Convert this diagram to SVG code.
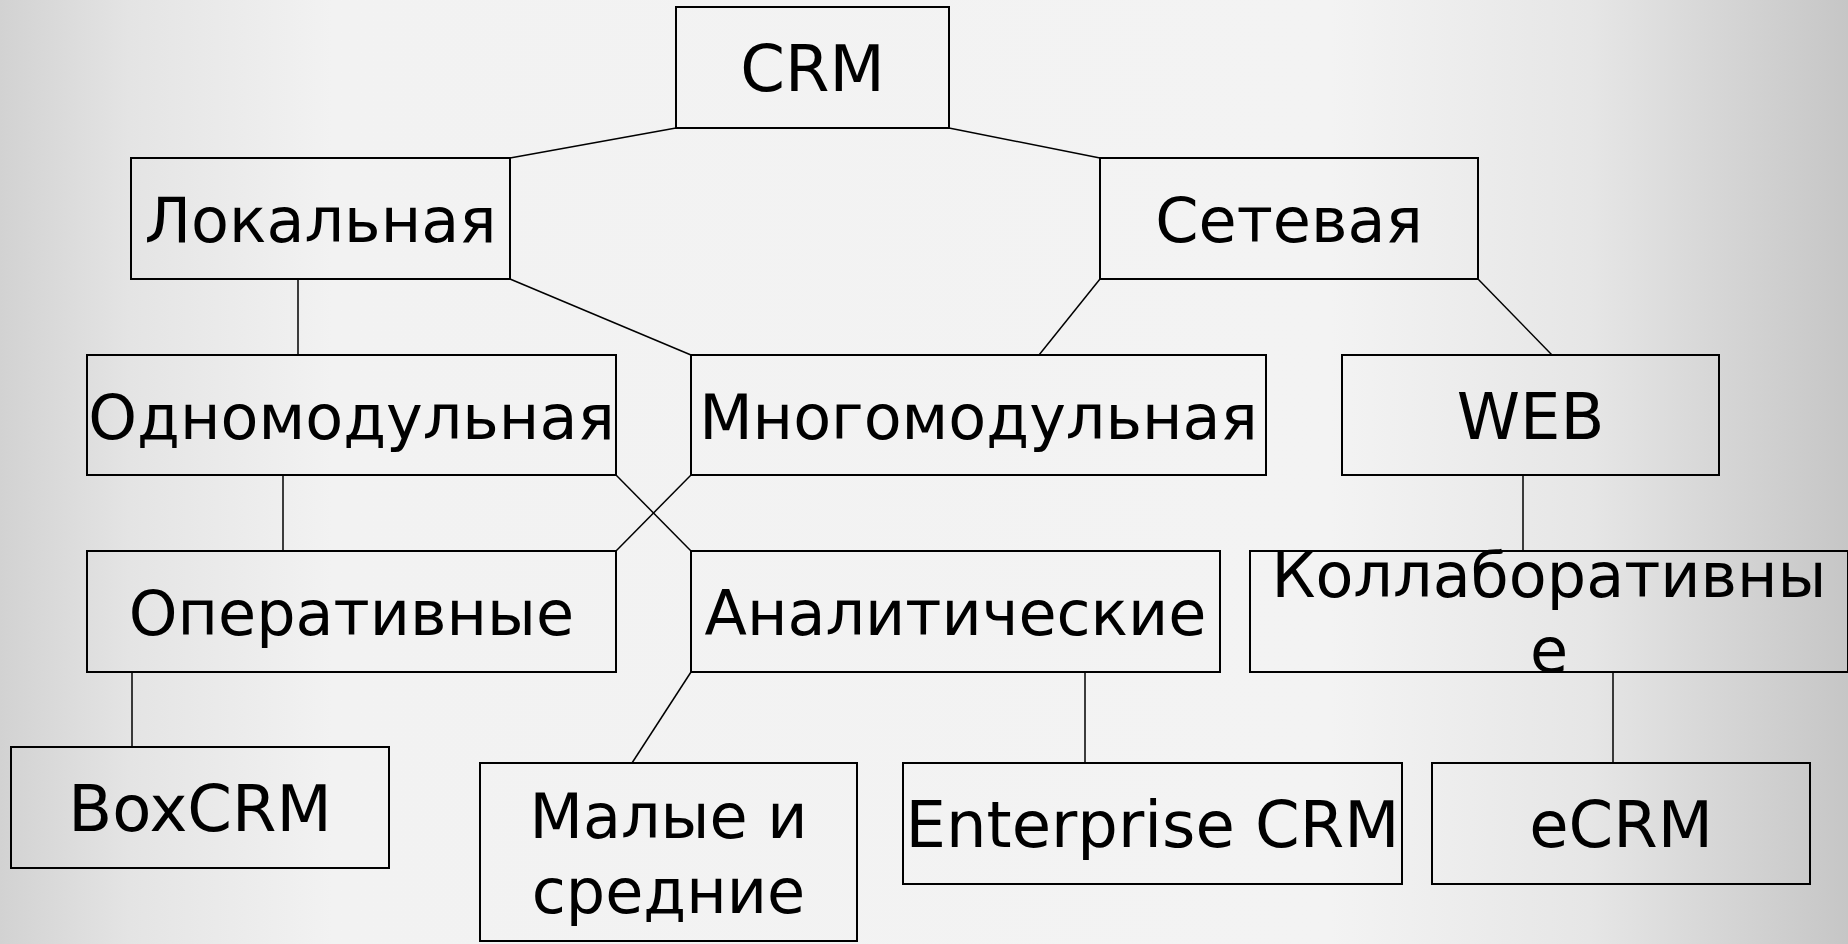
<svg xmlns="http://www.w3.org/2000/svg" width="1848" height="944" viewBox="0 0 1848 944">
<defs>
<linearGradient id="bg" x1="0" y1="0" x2="1" y2="0">
<stop offset="0" stop-color="#d2d2d2"/>
<stop offset="0.07" stop-color="#e4e4e4"/>
<stop offset="0.18" stop-color="#f2f2f2"/>
<stop offset="0.72" stop-color="#f3f3f3"/>
<stop offset="0.86" stop-color="#e6e6e6"/>
<stop offset="1" stop-color="#c6c6c6"/>
</linearGradient>
<style>
.box{fill:none;stroke:#000;stroke-width:2}
.lbl{font-family:"DejaVu Sans",Verdana,sans-serif;font-size:62px;fill:#000;text-anchor:middle}
.lat{font-size:64px}
#connectors line{stroke:#000;stroke-width:1.5}
</style>
</defs>
<rect x="0" y="0" width="1848" height="944" fill="url(#bg)"/>
<g id="connectors">
<line x1="510" y1="158" x2="676" y2="128"/>
<line x1="949" y1="128" x2="1100" y2="158"/>
<line x1="298" y1="279" x2="298" y2="355"/>
<line x1="510" y1="279" x2="691" y2="355"/>
<line x1="1100" y1="279" x2="1039" y2="355"/>
<line x1="1478" y1="279" x2="1552" y2="355"/>
<line x1="283" y1="475" x2="283" y2="551"/>
<line x1="616" y1="475" x2="691" y2="551"/>
<line x1="691" y1="475" x2="616" y2="551"/>
<line x1="1523" y1="475" x2="1523" y2="551"/>
<line x1="132" y1="672" x2="132" y2="747"/>
<line x1="691" y1="672" x2="632" y2="763"/>
<line x1="1085" y1="672" x2="1085" y2="763"/>
<line x1="1613" y1="672" x2="1613" y2="763"/>
</g>
<g id="n-crm"><rect class="box" x="676" y="7" width="273" height="121"/><text class="lbl lat" x="812.5" y="91">CRM</text></g>
<g id="n-local"><rect class="box" x="131" y="158" width="379" height="121"/><text class="lbl" x="320.5" y="242">Локальная</text></g>
<g id="n-net"><rect class="box" x="1100" y="158" width="378" height="121"/><text class="lbl" x="1289" y="242">Сетевая</text></g>
<g id="n-single"><rect class="box" x="87" y="355" width="529" height="120"/><text class="lbl" x="351.5" y="438.5">Одномодульная</text></g>
<g id="n-multi"><rect class="box" x="691" y="355" width="575" height="120"/><text class="lbl" x="978.5" y="438.5">Многомодульная</text></g>
<g id="n-web"><rect class="box" x="1342" y="355" width="377" height="120"/><text class="lbl lat" x="1530.5" y="438.5">WEB</text></g>
<g id="n-oper"><rect class="box" x="87" y="551" width="529" height="121"/><text class="lbl" x="351.5" y="635">Оперативные</text></g>
<g id="n-anal"><rect class="box" x="691" y="551" width="529" height="121"/><text class="lbl" x="955.5" y="635">Аналитические</text></g>
<g id="n-collab"><rect class="box" x="1250" y="551" width="598" height="121"/><text class="lbl" x="1549" y="597">Коллаборативны</text><text class="lbl" x="1549" y="672">е</text></g>
<g id="n-box"><rect class="box" x="11" y="747" width="378" height="121"/><text class="lbl lat" x="200" y="831">BoxCRM</text></g>
<g id="n-small"><rect class="box" x="480" y="763" width="377" height="178"/><text class="lbl" x="668.5" y="838">Малые и</text><text class="lbl" x="668.5" y="913">средние</text></g>
<g id="n-ent"><rect class="box" x="903" y="763" width="499" height="121"/><text class="lbl lat" x="1152.5" y="847">Enterprise CRM</text></g>
<g id="n-ecrm"><rect class="box" x="1432" y="763" width="378" height="121"/><text class="lbl lat" x="1621" y="847">eCRM</text></g>
</svg>
